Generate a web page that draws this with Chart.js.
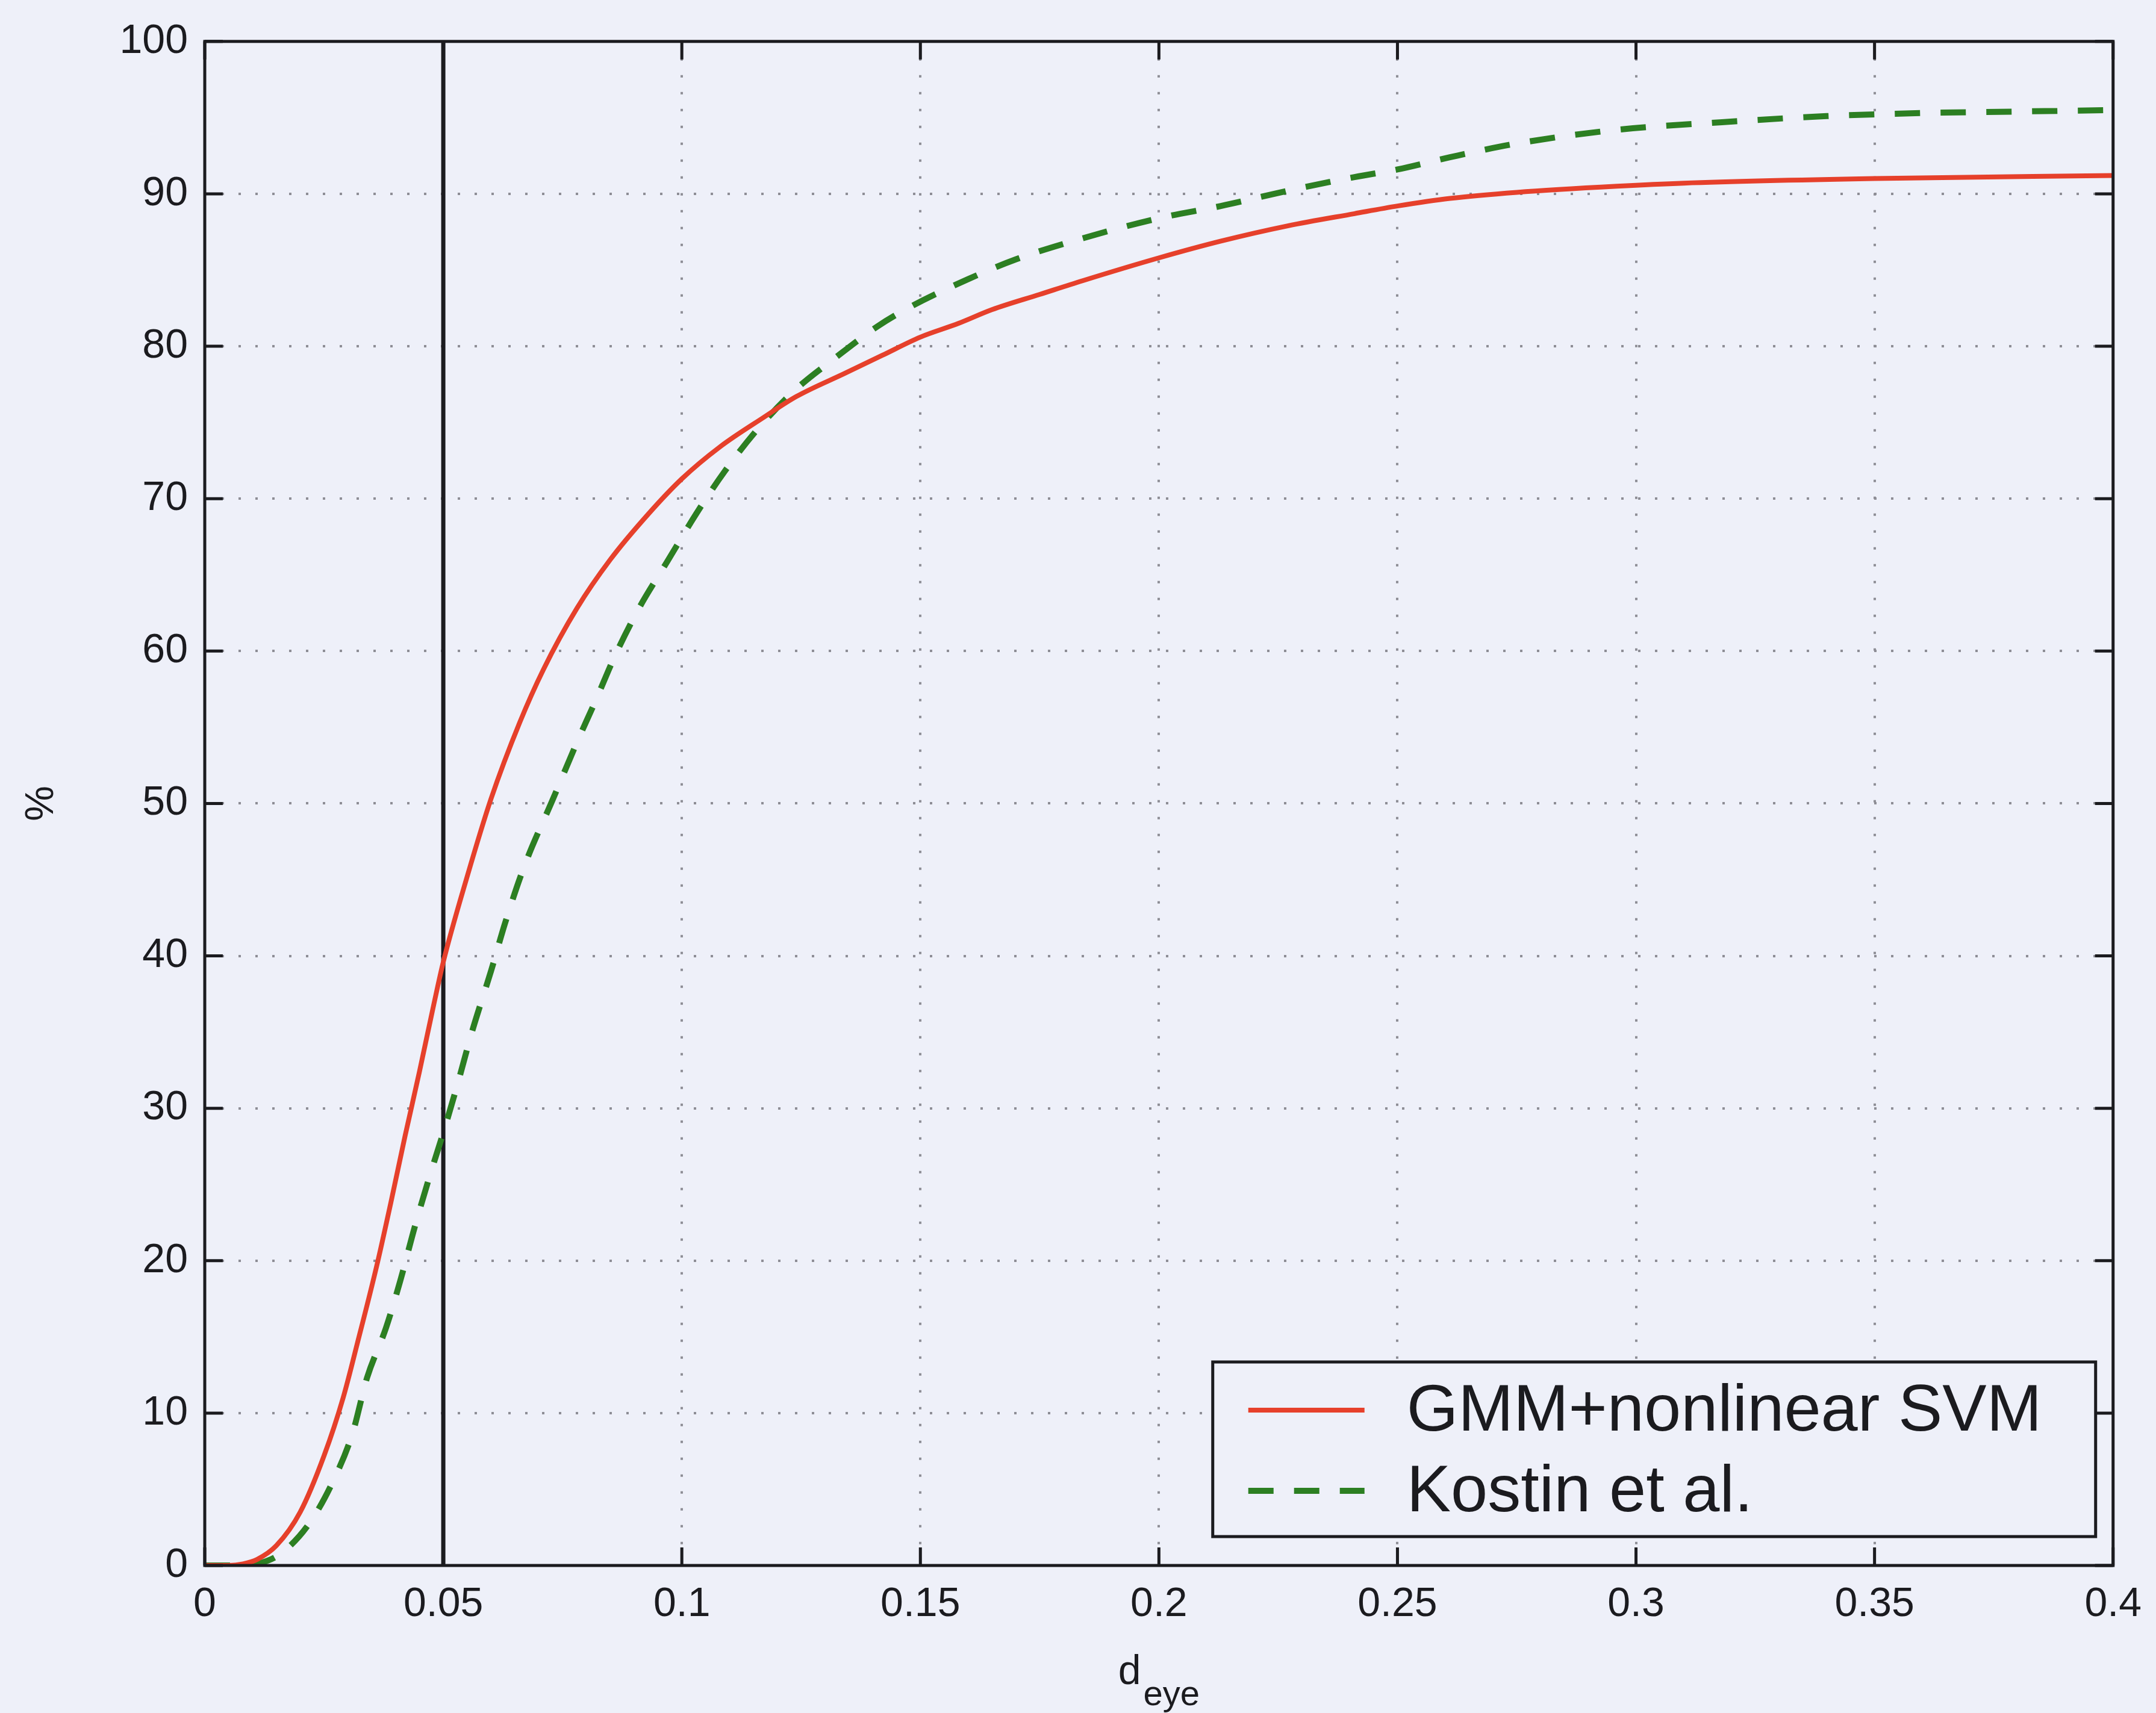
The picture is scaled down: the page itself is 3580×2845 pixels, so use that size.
<!DOCTYPE html>
<html lang="en">
<head>
<meta charset="UTF-8">
<title>d_eye curves</title>
<script src="https://cdn.jsdelivr.net/npm/chart.js"></script>
<style>
  body { margin: 0; background: #eef0f9; }
  #chart { display: block; }
</style>
</head>
<body>
<canvas id="chart" width="3580" height="2845"></canvas>
<script>
// values
const gmmX = [0, 0.005, 0.008, 0.011, 0.015, 0.02, 0.025, 0.029, 0.032, 0.036, 0.039, 0.042, 0.045, 0.048, 0.05,
  0.055, 0.06, 0.066, 0.071, 0.078, 0.085, 0.093, 0.1, 0.108, 0.117, 0.124, 0.134, 0.142, 0.15, 0.158,
  0.165, 0.175, 0.184, 0.2, 0.213, 0.227, 0.241, 0.25, 0.261, 0.275, 0.296, 0.31, 0.35, 0.4];
const gmmY = [0, 0, 0.1, 0.4, 1.3, 3.5, 7.2, 11, 14.6, 19.6, 23.8, 28.2, 32.4, 36.8, 39.6,
  45.2, 50.3, 55.3, 58.8, 62.8, 66, 69, 71.3, 73.4, 75.3, 76.7, 78.2, 79.4, 80.6, 81.5,
  82.4, 83.4, 84.3, 85.8, 86.9, 87.9, 88.7, 89.2, 89.7, 90.1, 90.5, 90.7, 91.0, 91.2];

const kostinX = [0, 0.008, 0.011, 0.016, 0.022, 0.027, 0.031, 0.034, 0.038, 0.041, 0.044, 0.047, 0.05, 0.053, 0.056,
  0.06, 0.063, 0.067, 0.073, 0.078, 0.082, 0.086, 0.091, 0.097, 0.103, 0.109, 0.116, 0.124, 0.132, 0.141,
  0.148, 0.16, 0.17, 0.182, 0.2, 0.213, 0.227, 0.241, 0.25, 0.261, 0.275, 0.296, 0.318, 0.34, 0.36, 0.38, 0.4];
const kostinY = [0, 0, 0.1, 0.8, 2.8, 5.6, 8.7, 12.3, 15.6, 18.7, 22.2, 25.4, 28.4, 31.6, 35,
  39, 42.2, 45.9, 50.3, 54, 56.8, 59.7, 62.8, 65.9, 69, 71.8, 74.6, 77.2, 79.2, 81.3,
  82.6, 84.4, 85.7, 86.9, 88.4, 89.2, 90.2, 91.1, 91.6, 92.4, 93.3, 94.2, 94.7, 95.1, 95.3, 95.4, 95.5];

// vertical marker at d_eye = 0.05
const markerX = [0.05, 0.05];
const markerY = [0, 100];

const xTicks = [0, 0.05, 0.1, 0.15, 0.2, 0.25, 0.3, 0.35, 0.4];
const yTicks = [0, 10, 20, 30, 40, 50, 60, 70, 80, 90, 100];
const seriesNames = ['GMM+nonlinear SVM', 'Kostin et al.'];
const xTitleMain = 'd';
const xTitleSub = 'eye';
const yTitle = '%';

const FONT = "'Liberation Sans', Arial, Helvetica, sans-serif";
const INK = '#1b1b1f';

function pts(xs, ys) {
  return xs.map((x, i) => ({ x: x, y: ys[i] }));
}

// box, inward ticks, legend and the subscripted x label (MATLAB look)
const matlabAxes = {
  id: 'matlabAxes',
  afterDraw(chart) {
    const { ctx, chartArea: a, scales } = chart;
    const x = scales.x, y = scales.y;
    ctx.save();
    ctx.strokeStyle = INK;
    ctx.lineWidth = 5;
    ctx.strokeRect(a.left, a.top, a.right - a.left, a.bottom - a.top);

    const tl = 30;
    ctx.beginPath();
    xTicks.forEach(v => {
      const px = x.getPixelForValue(v);
      ctx.moveTo(px, a.bottom); ctx.lineTo(px, a.bottom - tl);
      ctx.moveTo(px, a.top); ctx.lineTo(px, a.top + tl);
    });
    yTicks.forEach(v => {
      const py = y.getPixelForValue(v);
      ctx.moveTo(a.left, py); ctx.lineTo(a.left + tl, py);
      ctx.moveTo(a.right, py); ctx.lineTo(a.right - tl, py);
    });
    ctx.stroke();

    // legend, lower right inside the axes
    const bw = 1466, bh = 290;
    const bx = a.right - 29 - bw, by = a.bottom - 48 - bh;
    ctx.fillStyle = '#eef0f9';
    ctx.fillRect(bx, by, bw, bh);
    ctx.lineWidth = 5;
    ctx.strokeRect(bx, by, bw, bh);
    ctx.font = '110px ' + FONT;
    ctx.textBaseline = 'middle';
    ctx.textAlign = 'left';
    const items = chart.data.datasets.filter(d => d.inLegend);
    items.forEach((d, i) => {
      const ly = by + 80 + i * 134;
      ctx.save();
      ctx.strokeStyle = d.borderColor;
      ctx.lineWidth = d.borderWidth;
      ctx.setLineDash(d.borderDash || []);
      ctx.beginPath();
      ctx.moveTo(bx + 59, ly);
      ctx.lineTo(bx + 252, ly);
      ctx.stroke();
      ctx.restore();
      ctx.fillStyle = INK;
      ctx.fillText(d.label, bx + 322, ly + 4);
    });

    // x label with subscript
    ctx.textBaseline = 'alphabetic';
    ctx.font = '68px ' + FONT;
    const w1 = ctx.measureText(xTitleMain).width;
    ctx.font = '58px ' + FONT;
    const w2 = ctx.measureText(xTitleSub).width;
    const sx = (a.left + a.right) / 2 - (w1 + w2 + 4) / 2;
    ctx.fillStyle = INK;
    ctx.font = '68px ' + FONT;
    ctx.fillText(xTitleMain, sx, 2797);
    ctx.font = '58px ' + FONT;
    ctx.fillText(xTitleSub, sx + w1 + 4, 2832);
    ctx.restore();
  }
};

const gridLine = { color: '#8e8e96', lineWidth: 4, drawTicks: false };
const gridDash = { display: false, dash: [4, 24] };

new Chart(document.getElementById('chart'), {
  type: 'scatter',
  data: {
    datasets: [
      {
        label: seriesNames[0],
        data: pts(gmmX, gmmY),
        showLine: true,
        borderColor: '#e6402b',
        borderWidth: 8,
        pointRadius: 0,
        cubicInterpolationMode: 'monotone',
        inLegend: true
      },
      {
        label: seriesNames[1],
        data: pts(kostinX, kostinY),
        showLine: true,
        borderColor: '#2c7f22',
        borderWidth: 10,
        borderDash: [42, 34],
        pointRadius: 0,
        cubicInterpolationMode: 'monotone',
        inLegend: true
      },
      {
        label: 'd_eye = 0.05',
        data: pts(markerX, markerY),
        showLine: true,
        borderColor: INK,
        borderWidth: 7,
        pointRadius: 0,
        inLegend: false
      }
    ]
  },
  options: {
    responsive: false,
    animation: false,
    layout: { padding: { top: 68, right: 62, left: 0, bottom: 0 } },
    plugins: {
      legend: { display: false },
      tooltip: { enabled: false }
    },
    scales: {
      x: {
        type: 'linear',
        min: 0,
        max: 0.4,
        afterBuildTicks: s => { s.ticks = xTicks.map(v => ({ value: v })); },
        afterFit: s => { s.height = 245; },
        grid: gridLine,
        border: gridDash,
        ticks: {
          padding: 24,
          color: INK,
          maxRotation: 0,
          font: { family: FONT, size: 68 },
          callback: v => String(+Number(v).toFixed(2))
        }
      },
      y: {
        min: 0,
        max: 100,
        afterBuildTicks: s => { s.ticks = yTicks.map(v => ({ value: v })); },
        afterFit: s => { s.width = 340; },
        grid: gridLine,
        border: gridDash,
        title: {
          display: true,
          text: yTitle,
          color: INK,
          padding: { top: 30, bottom: 0 },
          font: { family: FONT, size: 66 }
        },
        ticks: {
          padding: 28,
          color: INK,
          font: { family: FONT, size: 68 }
        }
      }
    }
  },
  plugins: [matlabAxes]
});
</script>
</body>
</html>
